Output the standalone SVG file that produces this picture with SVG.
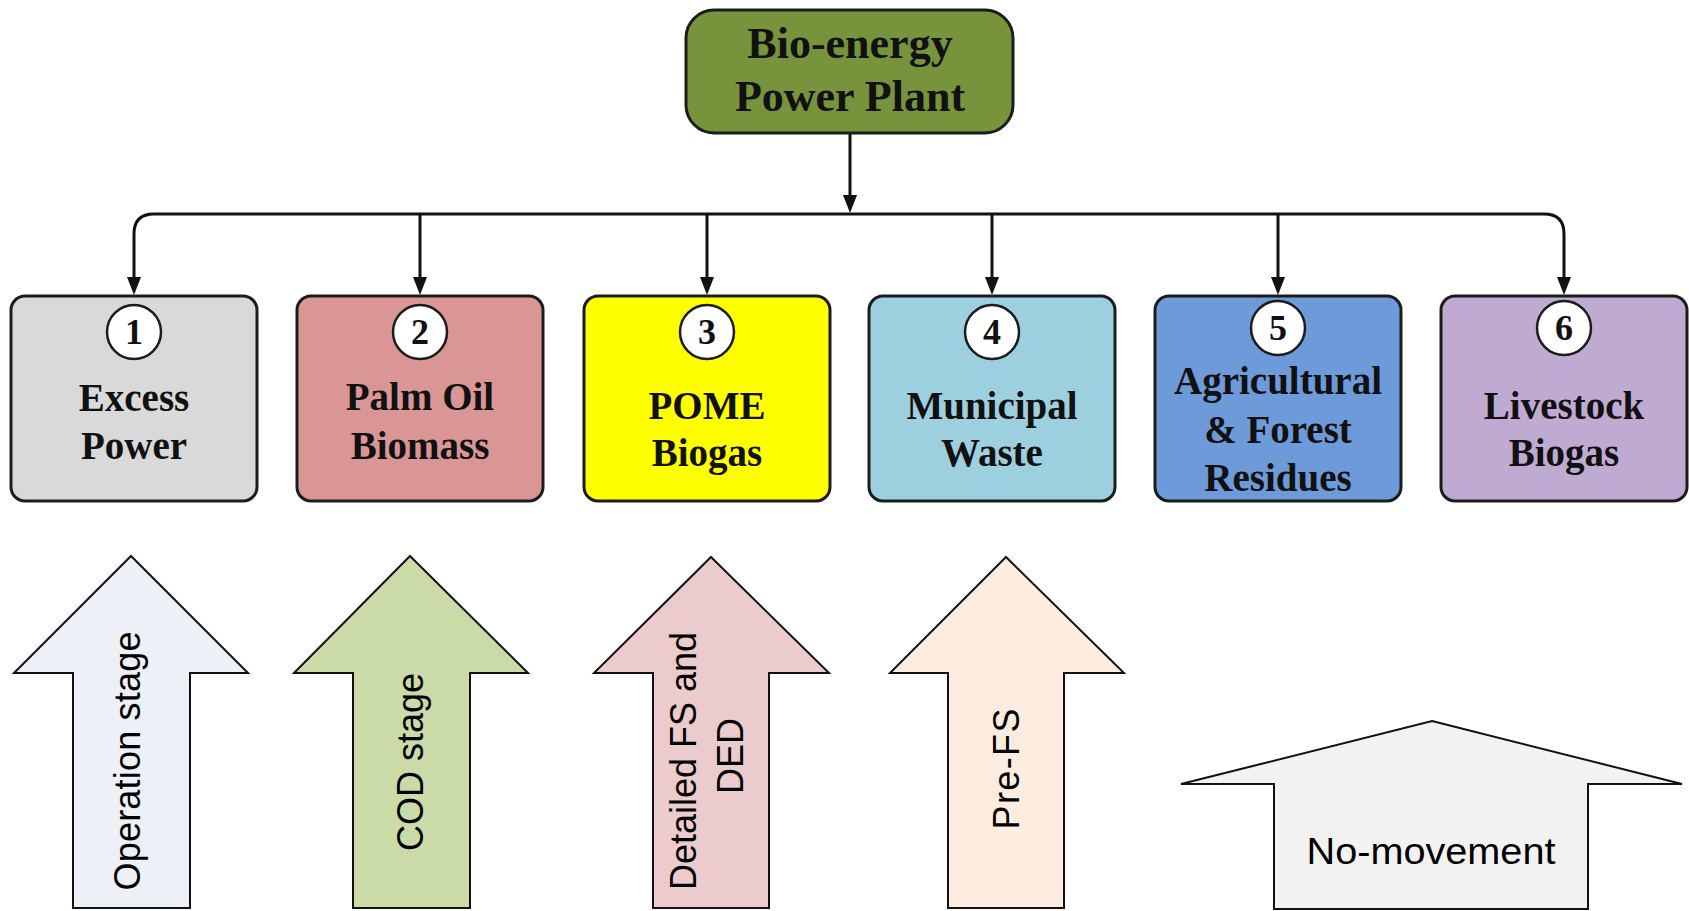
<svg xmlns="http://www.w3.org/2000/svg" width="1689" height="911" viewBox="0 0 1689 911">
<defs>
<style>
.box{stroke:#1c1c1c;stroke-width:3}
.ttl{font-family:"Liberation Serif","Times New Roman",serif;font-weight:bold;fill:#111;text-anchor:middle}
.num{font-family:"Liberation Serif","Times New Roman",serif;font-weight:bold;font-size:36px;fill:#111;text-anchor:middle}
.circ{fill:#fff;stroke:#1c1c1c;stroke-width:2.5}
.con{fill:none;stroke:#111;stroke-width:3}
.arr{stroke:#111;stroke-width:2;stroke-linejoin:miter}
.lbl{font-family:"Liberation Sans",Arial,sans-serif;font-size:36px;fill:#000;text-anchor:middle}
</style>
</defs>
<rect width="1689" height="911" fill="#fff"/>
<g id="connectors">
<path class="con" d="M850,133 V196"/>
<path d="M843,195 L857,195 L850,213 Z" fill="#111"/>
<path class="con" d="M134,278 V234 Q134,214 154,214 H1544 Q1564,214 1564,234 V278"/>
<path class="con" d="M420,214 V278"/>
<path class="con" d="M707,214 V278"/>
<path class="con" d="M992,214 V278"/>
<path class="con" d="M1278,214 V278"/>
<path d="M127,277 L141,277 L134,295 Z" fill="#111"/>
<path d="M413,277 L427,277 L420,295 Z" fill="#111"/>
<path d="M700,277 L714,277 L707,295 Z" fill="#111"/>
<path d="M985,277 L999,277 L992,295 Z" fill="#111"/>
<path d="M1271,277 L1285,277 L1278,295 Z" fill="#111"/>
<path d="M1557,277 L1571,277 L1564,295 Z" fill="#111"/>
</g>
<g id="root">
<rect class="box" x="686" y="10" width="327" height="123" rx="28" fill="#77933c"/>
<text class="ttl" font-size="44" x="850" y="58">Bio-energy</text>
<text class="ttl" font-size="44" x="850" y="111">Power Plant</text>
</g>
<g id="n1">
<rect class="box" x="11" y="296" width="246" height="205" rx="14" fill="#d9d9d9"/>
<circle class="circ" cx="134" cy="332" r="27"/>
<text class="num" x="134" y="344">1</text>
<text class="ttl" font-size="39" x="134" y="411">Excess</text>
<text class="ttl" font-size="39" x="134" y="459">Power</text>
</g>
<g id="n2">
<rect class="box" x="297" y="296" width="246" height="205" rx="14" fill="#da9694"/>
<circle class="circ" cx="420" cy="332" r="27"/>
<text class="num" x="420" y="344">2</text>
<text class="ttl" font-size="39" x="420" y="410">Palm Oil</text>
<text class="ttl" font-size="39" x="420" y="459">Biomass</text>
</g>
<g id="n3">
<rect class="box" x="584" y="296" width="246" height="205" rx="14" fill="#ffff00"/>
<circle class="circ" cx="707" cy="332" r="27"/>
<text class="num" x="707" y="344">3</text>
<text class="ttl" font-size="39" x="707" y="419">POME</text>
<text class="ttl" font-size="39" x="707" y="466">Biogas</text>
</g>
<g id="n4">
<rect class="box" x="869" y="296" width="246" height="205" rx="14" fill="#9dd0de"/>
<circle class="circ" cx="992" cy="332" r="27"/>
<text class="num" x="992" y="344">4</text>
<text class="ttl" font-size="39" x="992" y="419">Municipal</text>
<text class="ttl" font-size="39" x="992" y="466">Waste</text>
</g>
<g id="n5">
<rect class="box" x="1155" y="296" width="246" height="205" rx="14" fill="#6d9bd9"/>
<circle class="circ" cx="1278" cy="328" r="27"/>
<text class="num" x="1278" y="340">5</text>
<text class="ttl" font-size="39" x="1278" y="394">Agricultural</text>
<text class="ttl" font-size="39" x="1278" y="443">&amp; Forest</text>
<text class="ttl" font-size="39" x="1278" y="491">Residues</text>
</g>
<g id="n6">
<rect class="box" x="1441" y="296" width="246" height="205" rx="14" fill="#bfabd2"/>
<circle class="circ" cx="1564" cy="328" r="27"/>
<text class="num" x="1564" y="340">6</text>
<text class="ttl" font-size="39" x="1564" y="419">Livestock</text>
<text class="ttl" font-size="39" x="1564" y="466">Biogas</text>
</g>
<g id="s1">
<path class="arr" fill="#edf0f6" d="M131,556 L248,673 H190 V908 H73 V673 H14 Z"/>
<text class="lbl" transform="translate(140,761) rotate(-90)" textLength="259" lengthAdjust="spacing">Operation stage</text>
</g>
<g id="s2">
<path class="arr" fill="#cadba8" d="M410,556 L528,673 H470 V908 H353 V673 H294 Z"/>
<text class="lbl" transform="translate(423,762) rotate(-90)">COD stage</text>
</g>
<g id="s3">
<path class="arr" fill="#ebcbcb" d="M711,557 L829,673 H769 V908 H653 V673 H594 Z"/>
<text class="lbl" transform="translate(696,761) rotate(-90)">Detailed FS and</text>
<text class="lbl" transform="translate(743,756) rotate(-90)">DED</text>
</g>
<g id="s4">
<path class="arr" fill="#fdede1" d="M1006,557 L1124,673 H1064 V908 H948 V673 H890 Z"/>
<text class="lbl" transform="translate(1019,769) rotate(-90)" textLength="121" lengthAdjust="spacing">Pre-FS</text>
</g>
<g id="s5">
<path class="arr" fill="#f2f2f2" d="M1432,721 L1682,784 H1588 V909 H1274 V784 H1181 Z"/>
<text class="lbl" x="1431" y="864" font-size="38" textLength="249" lengthAdjust="spacingAndGlyphs">No-movement</text>
</g>
</svg>
